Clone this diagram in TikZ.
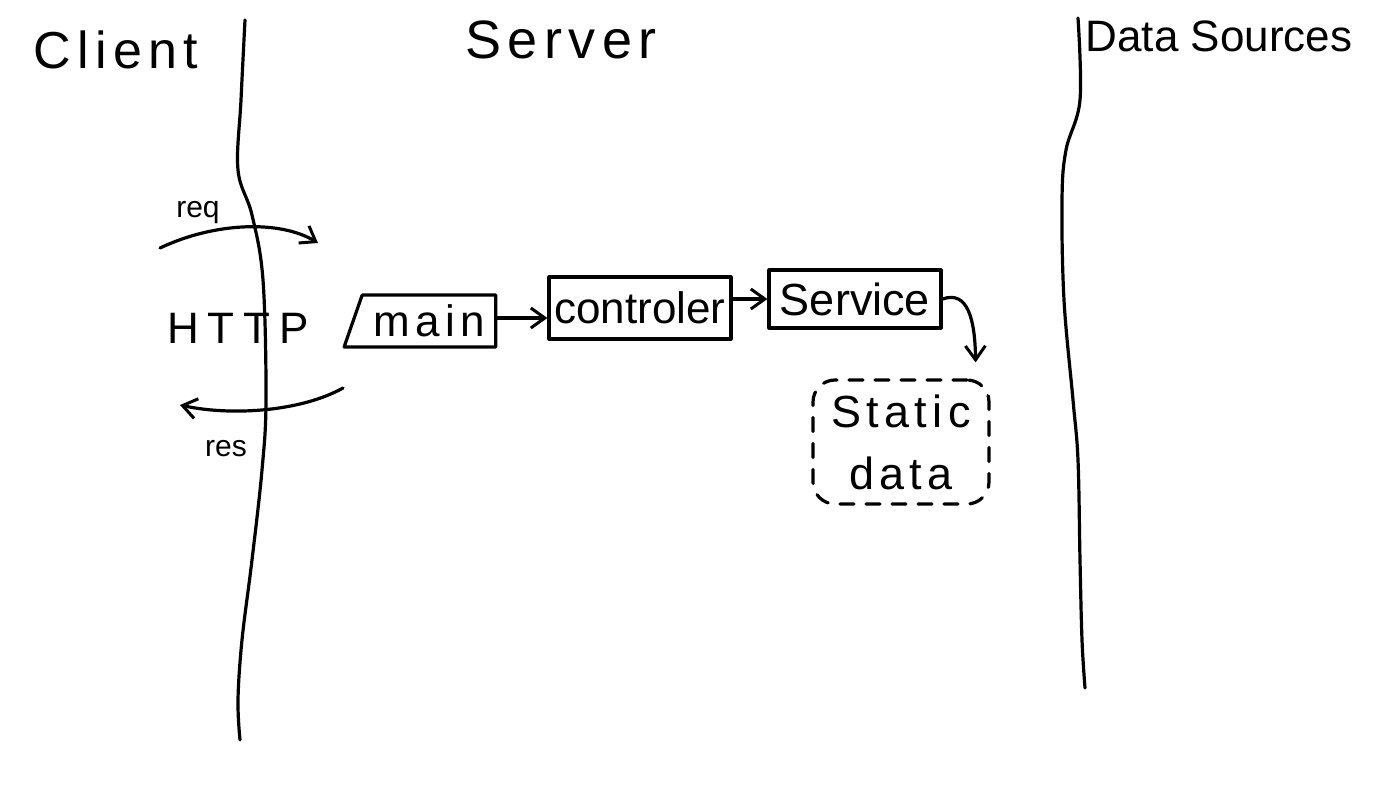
\documentclass[tikz,border=0pt]{standalone}
\usepackage{fontspec}
\setmainfont{Liberation Sans}
\newfontfamily\wide[LetterSpace=12]{Liberation Sans}
\newfontfamily\wider[LetterSpace=20]{Liberation Sans}
\usetikzlibrary{arrows.meta,shapes.geometric}
\tikzset{
  ink/.style={line width=3.2pt, line cap=round, line join=round, black},
  lbl/.style={inner sep=0pt, font=\wide},
  box/.style={ink, draw, rectangle, inner sep=0pt},
  tip/.style={-{Straight Barb[length=14pt,width=20pt,line width=3pt]}},
}
\begin{document}
\begin{tikzpicture}[x=1pt,y=-1pt]
\useasboundingbox (0,0) rectangle (1400,800);
\fill[white] (0,0) rectangle (1400,800);
% swimlane lines
\draw[ink] plot[smooth, tension=0.6] coordinates {(245,20) (241,100) (238,170) (252,215) (263,280) (266,400) (262,470) (252,560) (242,640) (238,700) (240,740)};
\draw[ink] plot[smooth, tension=0.6] coordinates {(1078,18) (1080,100) (1066,150) (1062,200) (1064,300) (1073,400) (1078,460) (1080,560) (1082,640) (1085,688)};
% titles
\node[lbl, font=\wide\fontsize{52}{56}\selectfont] (client) at (116,50) {Client};
\node[lbl, font=\wide\fontsize{54}{58}\selectfont] (server) at (561,40) {Server};
\node[lbl, font=\fontsize{44}{48}\selectfont] (ds) at (1219,36) {Data Sources};
% HTTP
\node[lbl, font=\wider\fontsize{44}{48}\selectfont] (http) at (238,328) {HTTP};
\node[lbl, font=\fontsize{30}{32}\selectfont] (req) at (198,213) {req};
\node[lbl, font=\fontsize{30}{32}\selectfont] (res) at (226,449) {res};
\coordinate (reqA) at (160,248);
\coordinate (reqB) at (318,243);
\coordinate (resA) at (343,388);
\coordinate (resB) at (180,405);
\draw[ink, tip] (reqA) .. controls (215,222) and (280,220) .. (reqB);
\draw[ink, tip] (resA) .. controls (300,412) and (230,416) .. (resB);
% boxes
\node[box, trapezium, trapezium left angle=65, trapezium right angle=90, trapezium stretches=true, minimum width=152pt, minimum height=52pt, font=\wide\fontsize{44}{48}\selectfont] (main) at (429,321) {main};
\node[box, minimum width=182pt, minimum height=62pt, font=\fontsize{44}{48}\selectfont] (ctrl) at (640,308) {controler};
\node[box, minimum width=172pt, minimum height=58pt, font=\fontsize{45}{48}\selectfont] (svc) at (855,299) {Service};
\node[ink, draw, dashed, dash pattern=on 14pt off 12pt, rounded corners=22pt, minimum width=176pt, minimum height=124pt, align=center, inner sep=0pt, font=\wide\fontsize{45}{62}\selectfont] (static) at (901,442) {Static\\data};
% connectors
\draw[ink, tip] ([yshift=3pt]main.east) -- ([yshift=3pt]main.east -| ctrl.west);
\draw[ink, tip] (ctrl.east |- svc.west) -- (svc.west);
\draw[ink, tip] (svc.east) .. controls (968,290) and (975,320) .. ([xshift=-15pt,yshift=16pt]static.north east);
\end{tikzpicture}
\end{document}
